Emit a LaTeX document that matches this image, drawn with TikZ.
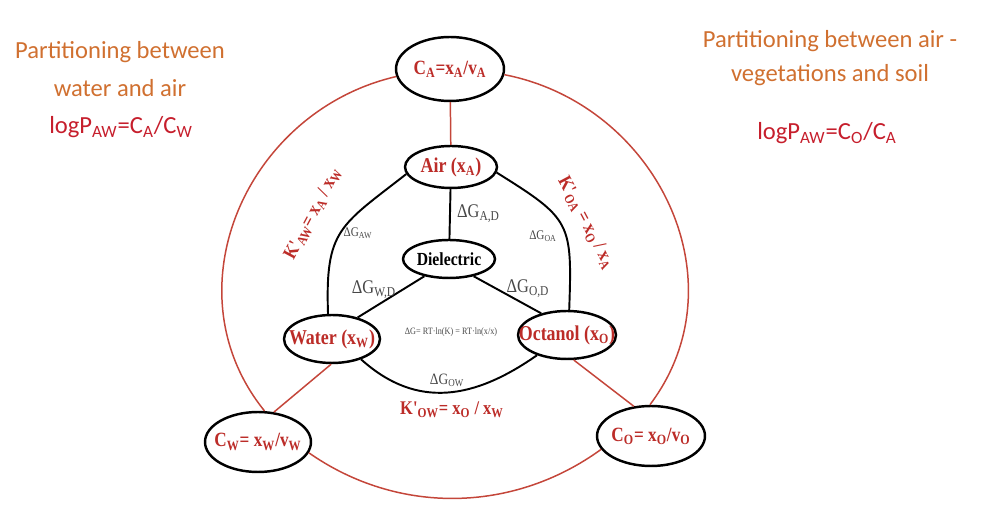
\documentclass[tikz,border=0pt]{standalone}
\usepackage{fontspec}
\setmainfont{Liberation Serif}
\newfontfamily\diagfont[FakeStretch=0.85]{Liberation Serif}
\newfontfamily\notefont{Carlito}
\usepackage{tikz}
\usetikzlibrary{shapes.geometric}

\definecolor{noteorange}{RGB}{208,112,48}
\definecolor{notered}{RGB}{198,30,44}
\definecolor{phasered}{RGB}{188,44,40}
\definecolor{ringred}{RGB}{196,70,58}
\definecolor{dgray}{RGB}{72,72,72}

\newcommand{\sub}[1]{\textsubscript{#1}}

\begin{document}
\begin{tikzpicture}[
    x=0.02cm, y=0.02cm,
    squeeze/.style={execute at begin node={\hbox to 0pt\bgroup\hss},
                    execute at end node={\hss\egroup}},
    phase/.style={draw, ellipse, line width=1.4pt, fill=white, inner sep=0pt,
                  squeeze, text=phasered,
                  font=\diagfont\bfseries\fontsize{12}{14}\selectfont},
    conc/.style={phase, font=\diagfont\bfseries\fontsize{11.5}{14}\selectfont},
    ring/.style={draw=ringred, line width=0.85pt},
    link/.style={draw, line width=1.1pt},
    dg/.style={text=dgray, inner sep=1pt, font=\diagfont\fontsize{#1}{#1}\selectfont},
    dg/.default=11,
    kval/.style={text=phasered, inner sep=1pt,
                 font=\diagfont\bfseries\fontsize{11}{13}\selectfont},
    note/.style={text=noteorange, align=center,
                 font=\notefont\fontsize{14}{22}\selectfont},
    formula/.style={text=notered, font=\notefont\fontsize{14}{17}\selectfont}
]
\useasboundingbox (0,0) rectangle (982,519);

% phases
\node[phase, minimum width=1.84cm, minimum height=0.84cm] (air) at (451,352) {Air (x\sub{A})};
\node[phase, text=black, minimum width=1.84cm, minimum height=0.76cm,
      font=\diagfont\bfseries\fontsize{10.5}{12}\selectfont] (diel) at (449,260) {Dielectric};
\node[phase, minimum width=1.92cm, minimum height=0.96cm] (water) at (332,180) {Water (x\sub{W})};
\node[phase, minimum width=1.96cm, minimum height=0.96cm] (oct) at (567,184) {Octanol (x\sub{O})};

% concentrations
\node[conc, minimum width=2.16cm, minimum height=1.28cm] (ca) at (450,450) {C\sub{A}=x\sub{A}/v\sub{A}};
\node[conc, minimum width=2.12cm, minimum height=1.2cm] (cw) at (258,77) {C\sub{W}= x\sub{W}/v\sub{W}};
\node[conc, minimum width=2.16cm, minimum height=1.2cm] (co) at (651,83) {C\sub{O}= x\sub{O}/v\sub{O}};

% outer ring
\draw[ring] (ca.188) to[out=193, in=129, looseness=1.1] (cw.78);
\draw[ring] (cw.348) to[out=-35, in=216, looseness=0.95] (co.195);
\draw[ring] (ca.354) to[out=-11, in=53, looseness=1.1] (co.92);
\draw[ring] (ca) -- (air);
\draw[ring] (water.268) -- (cw.62);
\draw[ring] (oct.285) -- (co.120);

% inner ring
\draw[link] (air.189) to[out=218, in=92, looseness=1.35] (water.99);
\draw[link] (air.353) to[out=-32, in=88, looseness=1.45] (oct.85);
\draw[link] (water.325) to[out=-42, in=215, looseness=1.1] (oct.214);
\draw[link] (air) -- (diel);
\draw[link] (diel.215) -- (water.40);
\draw[link] (diel.325) -- (oct.140);

% free energies
\node[dg, anchor=west] (gad) at (455,305) {ΔG\sub{A,D}};
\node[dg=7.5] (gaw) at (358,286) {ΔG\sub{AW}};
\node[dg=7.5] (goa) at (543,283) {ΔG\sub{OA}};
\node[dg] (gwd) at (374,229) {ΔG\sub{W,D}};
\node[dg] (god) at (528,230) {ΔG\sub{O,D}};
\node[dg=9] (gow) at (447,139) {ΔG\sub{OW}};
\node[dg=5.5] (grt) at (451,187) {ΔG= RT·ln(K) = RT·ln(x/x)};

% partition coefficients
\node[kval, rotate=62] (kaw) at (313,305) {K'\sub{AW}= x\sub{A} / x\sub{W}};
\node[kval, rotate=-62] (koa) at (586,296) {K'\sub{OA} = x\sub{O} / x\sub{A}};
\node[kval] (kow) at (452,109) {K'\sub{OW}= x\sub{O} / x\sub{W}};

% side notes
\node[note] (leftnote) at (120,450) {Partitioning between\\water and air};
\node[formula] (leftlog) at (121,392) {logP\sub{AW}=C\sub{A}/C\sub{W}};
\node[note, font=\notefont\fontsize{14}{19}\selectfont] (rightnote) at (830,461)
     {Partitioning between air -\\vegetations and soil};
\node[formula] (rightlog) at (827,386) {logP\sub{AW}=C\sub{O}/C\sub{A}};

\end{tikzpicture}
\end{document}
